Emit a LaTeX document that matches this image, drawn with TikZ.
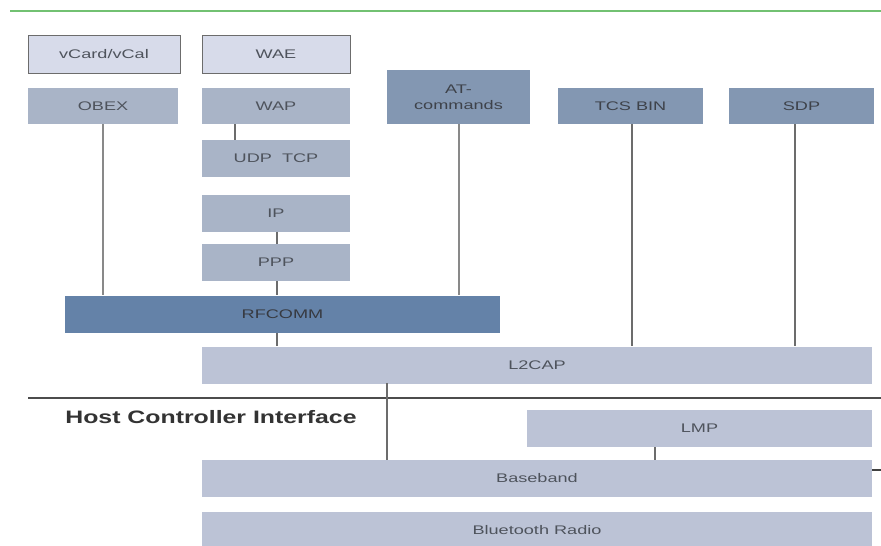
\documentclass[tikz,border=0pt]{standalone}
\usepackage{fontspec}
\setmainfont{Liberation Sans}
\definecolor{toplight}{HTML}{D7DBEA}
\definecolor{midgrey}{HTML}{A9B4C7}
\definecolor{midblue}{HTML}{8397B2}
\definecolor{darkblue}{HTML}{6482A8}
\definecolor{lowlight}{HTML}{BCC3D6}
\definecolor{txtc}{HTML}{4E535C}
\definecolor{linec}{HTML}{6C6C6C}
\definecolor{greenl}{HTML}{72C172}
\newcommand\stx[1]{\scalebox{1.45}[1]{#1}}
\tikzset{
  layer/.style={rectangle, inner sep=0pt, text=txtc, align=center,
    font=\fontsize{12.5}{13}\selectfont},
  toplayer/.style={layer, fill=toplight, draw=gray!85!black, line width=1pt},
  greylayer/.style={layer, fill=midgrey},
  bluelayer/.style={layer, fill=midblue, text=txtc!80!black},
  darklayer/.style={layer, fill=darkblue, text=txtc!70!black},
  lowlayer/.style={layer, fill=lowlight},
  conn/.style={draw=linec, line width=2pt},
  sepline/.style={draw=black!70, line width=2.6pt},
}
\begin{document}
\begin{tikzpicture}[x=1pt,y=-1pt]
\fill[white] (0,0) rectangle (881,546);
\useasboundingbox (0,0) rectangle (881,546);
% title rule
\coordinate (gL) at (10,11);
\coordinate (gR) at (881,11);
\draw[greenl, line width=2.6pt] (gL) -- (gR);
% upper boxes
\node[toplayer, minimum width=152, minimum height=38] (vc) at (104,54) {\stx{vCard/vCal}};
\node[toplayer, minimum width=148, minimum height=38] (wae) at (276,54) {\stx{WAE}};
\node[greylayer, minimum width=150, minimum height=36] (obex) at (103,106) {\stx{OBEX}};
\node[greylayer, minimum width=148, minimum height=36] (wap) at (276,106) {\stx{WAP}};
\node[bluelayer, minimum width=143, minimum height=54] (at) at (458.5,97) {\stx{AT-}\\[3pt]\stx{commands}};
\node[bluelayer, minimum width=145, minimum height=36] (tcs) at (630.5,106) {\stx{TCS BIN}};
\node[bluelayer, minimum width=145, minimum height=36] (sdp) at (801.5,106) {\stx{SDP}};
\node[greylayer, minimum width=148, minimum height=37] (udp) at (276,158.5) {\stx{UDP\ \ TCP}};
\node[greylayer, minimum width=148, minimum height=37] (ip) at (276,213) {\stx{IP}};
\node[greylayer, minimum width=148, minimum height=37] (ppp) at (276,262.5) {\stx{PPP}};
\node[darklayer, minimum width=435, minimum height=37] (rfc) at (282.5,314) {\stx{RFCOMM}};
\node[lowlayer, minimum width=670, minimum height=37] (l2) at (537,365) {\stx{L2CAP}};
\node[lowlayer, minimum width=345, minimum height=37] (lmp) at (699.5,428.5) {\stx{LMP}};
\node[lowlayer, minimum width=670, minimum height=37] (bb) at (537,478.5) {\stx{Baseband}};
\node[lowlayer, minimum width=670, minimum height=36] (radio) at (537,530) {\stx{Bluetooth Radio}};
% host controller interface
\coordinate (hL) at (28,398);
\coordinate (hR) at (881,398);
\draw[sepline] (hL) -- (hR);
\node[font=\fontsize{18}{20}\selectfont\bfseries, text=black!80, inner sep=0pt] (hci) at (211,417) {\scalebox{1.38}[1]{Host Controller Interface}};
% connectors
\draw[conn, draw=linec!80] (obex.south) -- (obex.south |- rfc.north);
\draw[conn] ([xshift=-41pt]wap.south) -- ([xshift=-41pt]wap.south |- udp.north);
\draw[conn] ([xshift=1pt]ip.south) -- ([xshift=1pt]ppp.north);
\draw[conn] ([xshift=1pt]ppp.south) -- ([xshift=1pt]ppp.south |- rfc.north);
\draw[conn] ([xshift=1pt]ppp.south |- rfc.south) -- ([xshift=1pt]ppp.south |- l2.north);
\draw[conn, draw=linec!80] (at.south) -- (at.south |- rfc.north);
\draw[conn] ([xshift=1.5pt]tcs.south) -- ([xshift=1.5pt]tcs.south |- l2.north);
\draw[conn] ([xshift=-6.5pt]sdp.south) -- ([xshift=-6.5pt]sdp.south |- l2.north);
\draw[conn] (387,383) coordinate (lb) -- (lb |- bb.north);
\draw[conn] ([xshift=-44.5pt]lmp.south) -- ([xshift=-44.5pt]lmp.south |- bb.north);
\coordinate (tk) at (881,470);
\draw[draw=black!75, line width=1.2pt] (bb.east |- tk) -- (tk);
\end{tikzpicture}
\end{document}
